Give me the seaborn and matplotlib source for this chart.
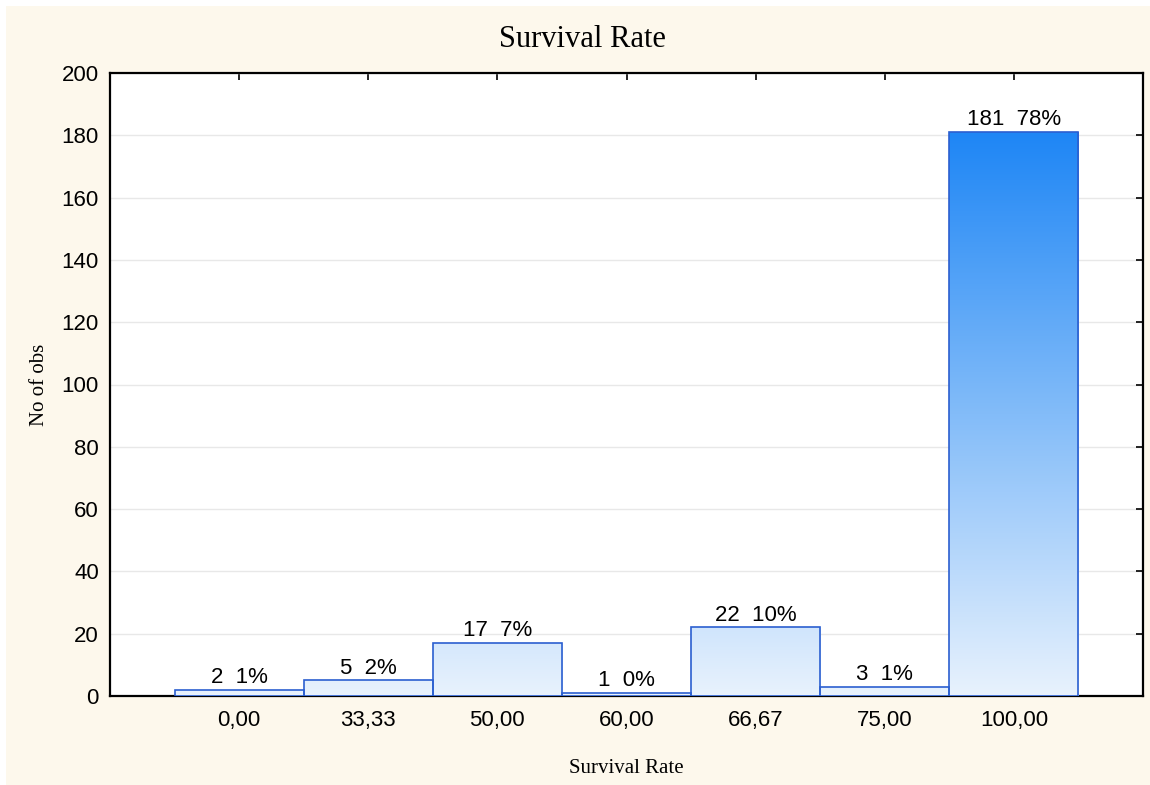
import numpy as np
import pandas as pd
import seaborn as sns
import matplotlib.pyplot as plt
from matplotlib.colors import LinearSegmentedColormap
from matplotlib.patches import Rectangle

# datos
categorias = ['0,00', '33,33', '50,00', '60,00', '66,67', '75,00', '100,00']
conteos = [2, 5, 17, 1, 22, 3, 181]
yticks = [0, 20, 40, 60, 80, 100, 120, 140, 160, 180, 200]

total = sum(conteos)
porcentajes = [round(100 * c / total) for c in conteos]
df = pd.DataFrame({'Survival Rate': categorias, 'No of obs': conteos})

sns.set_style('white')
plt.rcParams['font.family'] = ['Liberation Sans', 'DejaVu Sans']
plt.rcParams['text.color'] = 'black'
plt.rcParams['axes.labelcolor'] = 'black'
serif = ['Liberation Serif', 'DejaVu Serif']

fig = plt.figure(figsize=(11.5, 7.85), dpi=100, facecolor='white')
# fondo crema
fig.patches.append(Rectangle((6 / 1150, 0), 1, 1 - 6 / 785, transform=fig.transFigure,
                             facecolor='#FDF8EC', edgecolor='none', zorder=-10))
ax = fig.add_axes([110 / 1150, 1 - 696 / 785, (1143 - 110) / 1150, (696 - 73) / 785])
ax.set_facecolor('white')

sns.barplot(data=df, x='Survival Rate', y='No of obs', order=categorias, width=1,
            color='white', edgecolor='#2B5FD0', linewidth=1.2, ax=ax, zorder=3)

# degradado vertical en cada barra
cmap = LinearSegmentedColormap.from_list('azul', ['#E8F2FD', '#1E86F5'])
vmax = max(conteos)
for p in ax.patches:
    x0 = p.get_x()
    x1 = x0 + p.get_width()
    h = p.get_height()
    grad = np.linspace(0, h, 256)[:, None]
    im = ax.imshow(grad, cmap=cmap, vmin=0, vmax=vmax, origin='lower', aspect='auto',
                   extent=(x0, x1, 0, h), zorder=3.5)
    im.set_clip_path(p)
    p.set_facecolor('none')
    p.set_zorder(4)

for i, (c, pc) in enumerate(zip(conteos, porcentajes)):
    ax.text(i, c + 0.6, f'{c}  {pc}%', ha='center', va='bottom', fontsize=16,
            color='black', zorder=5)

ax.set_xlim(-1, 7)
ax.set_ylim(0, 200)
ax.set_yticks(yticks)
ax.yaxis.grid(True, color='#E8E8E8', linewidth=1, zorder=0)
ax.set_axisbelow(True)
for s in ax.spines.values():
    s.set_visible(True)
    s.set_color('black')
    s.set_linewidth(1.6)
ax.tick_params(axis='both', which='both', direction='in', length=5, width=1.2,
               top=True, right=True, labelsize=16, colors='black', pad=8)
ax.tick_params(axis='x', pad=10)

# el titulo va centrado en la figura, no en los ejes
ax.set_title('Survival Rate', fontsize=22, family=serif, pad=19, x=0.457, color='black')
ax.set_xlabel('Survival Rate', fontsize=15, family=serif, labelpad=20)
ax.set_ylabel('No of obs', fontsize=15, family=serif, labelpad=9)

plt.savefig('out.png', dpi=100, facecolor=fig.get_facecolor())
